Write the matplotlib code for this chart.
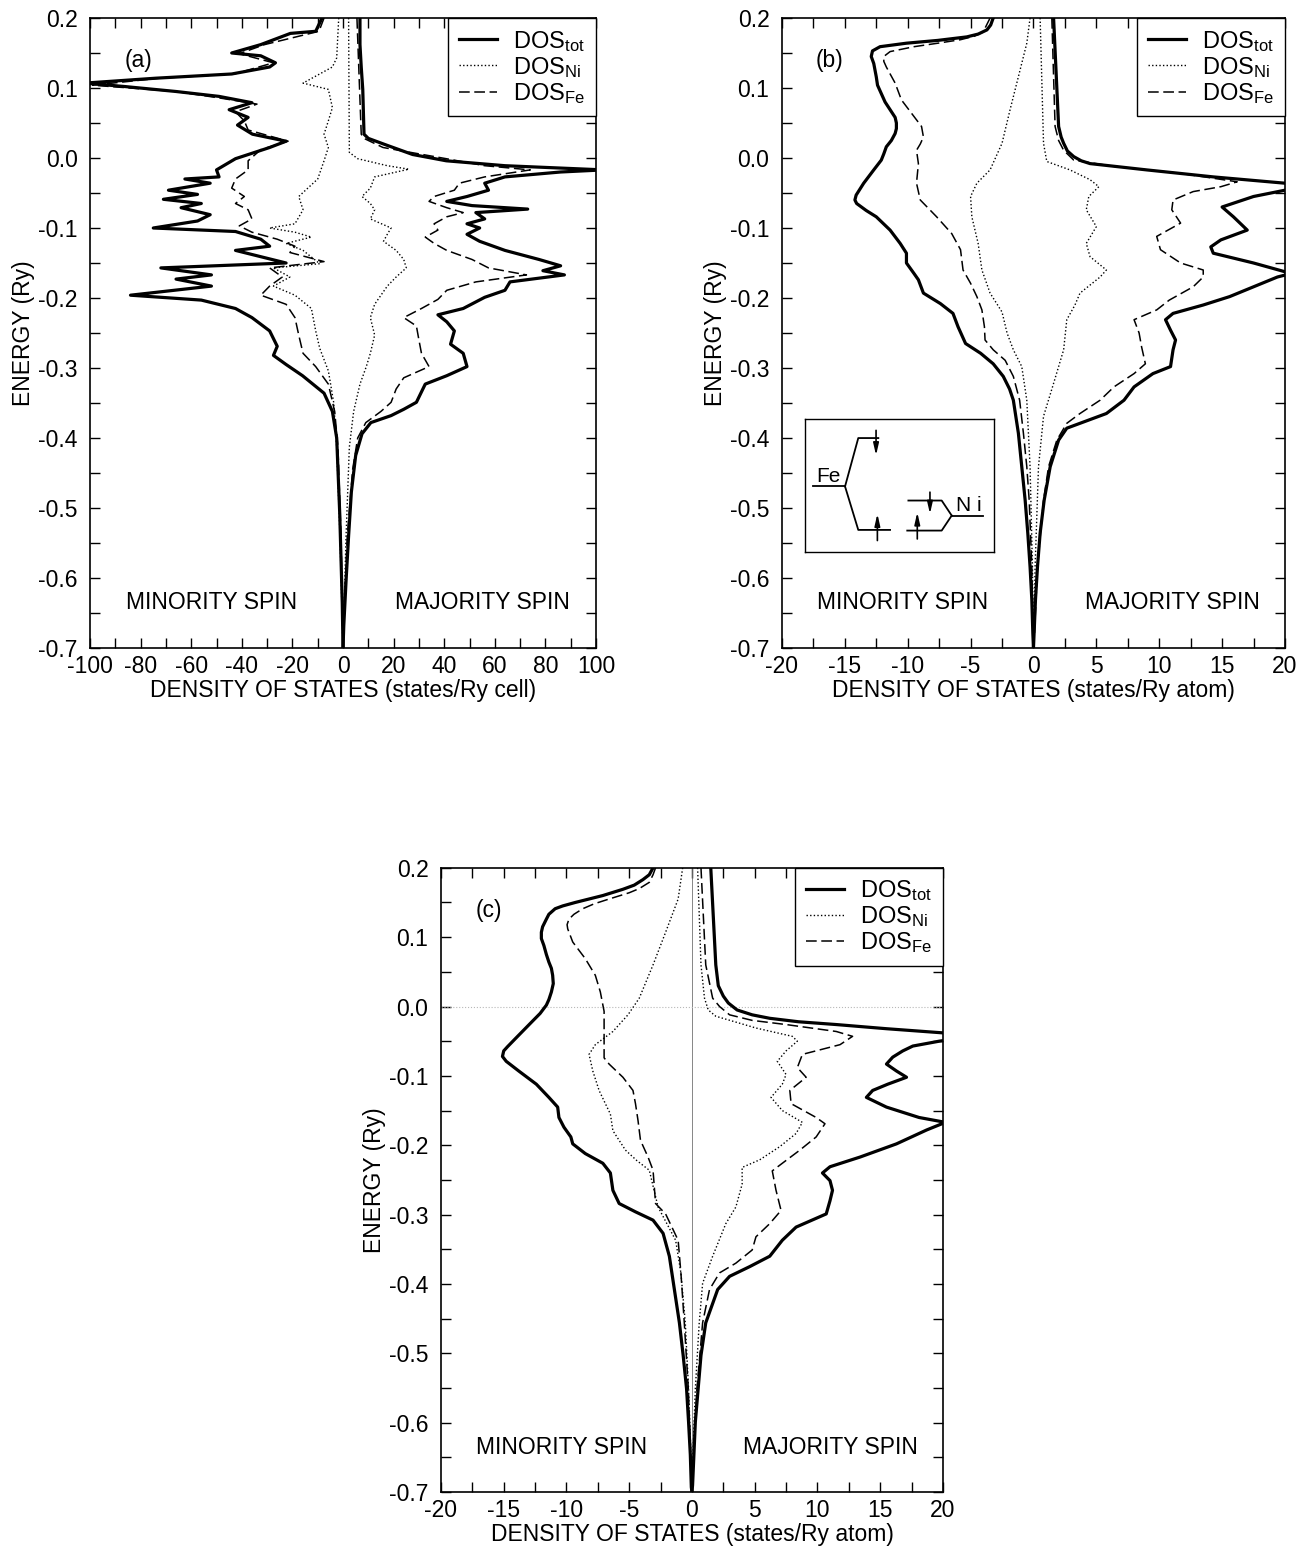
import numpy as np
import matplotlib
matplotlib.use('Agg')
import matplotlib.pyplot as plt
from matplotlib.ticker import MultipleLocator, FormatStrFormatter

plt.rcParams['font.family'] = ['Liberation Sans', 'DejaVu Sans']
plt.rcParams['mathtext.default'] = 'regular'
plt.rcParams['axes.unicode_minus'] = False

# ---- data: (energy in Ry, DOS); minority spin is drawn negative
# panel (a): states/Ry cell
a_tot_dn = [(0.200, -8.3), (0.181, -10.8), (0.178, -20.8), (0.162, -32.5), (0.150, -44), (0.146, -32.5),
            (0.136, -26.7), (0.130, -29), (0.120, -44), (0.114, -74), (0.107, -102), (0.102, -86),
            (0.095, -66), (0.088, -49), (0.079, -36), (0.069, -45), (0.058, -37.5), (0.047, -41.7),
            (0.034, -35.8), (0.024, -22.5), (0.015, -29), (-0.001, -42.5), (-0.017, -50), (-0.027, -49),
            (-0.030, -62.5), (-0.036, -52.5), (-0.046, -69), (-0.052, -57.5), (-0.059, -71), (-0.065, -56),
            (-0.071, -64), (-0.081, -52.5), (-0.090, -57.5), (-0.100, -75), (-0.105, -42.5), (-0.116, -32.5),
            (-0.126, -29), (-0.132, -42.5), (-0.141, -32.5), (-0.150, -22.5), (-0.157, -72), (-0.167, -52),
            (-0.173, -66), (-0.183, -52), (-0.196, -84), (-0.203, -56), (-0.215, -42.5), (-0.228, -36),
            (-0.247, -29), (-0.269, -26), (-0.282, -27.5), (-0.295, -22.5), (-0.311, -16), (-0.336, -7.5),
            (-0.362, -4.2), (-0.400, -2.5), (-0.445, -2.0), (-0.508, -1.3), (-0.572, -0.8), (-0.636, -0.3),
            (-0.700, 0)]
a_tot_up = [(0.200, 6.7), (0.162, 6.7), (0.130, 7.2), (0.098, 7.8), (0.034, 8.3), (0.028, 10), (0.018, 17.5),
            (0.005, 27.5), (-0.004, 40.8), (-0.011, 64), (-0.017, 103), (-0.020, 86), (-0.027, 64),
            (-0.036, 56), (-0.046, 57.5), (-0.055, 49), (-0.062, 41), (-0.068, 51), (-0.073, 73),
            (-0.078, 52.5), (-0.087, 56), (-0.094, 49), (-0.100, 54), (-0.109, 49), (-0.119, 54),
            (-0.132, 64), (-0.145, 77.5), (-0.154, 86), (-0.161, 79), (-0.167, 87.5), (-0.177, 66),
            (-0.189, 64), (-0.199, 56), (-0.215, 47.5), (-0.224, 37.5), (-0.234, 41), (-0.247, 44),
            (-0.266, 42.5), (-0.279, 47.5), (-0.298, 49), (-0.311, 41), (-0.323, 32.5), (-0.349, 29),
            (-0.359, 24), (-0.368, 19), (-0.378, 11), (-0.394, 7.5), (-0.425, 5), (-0.477, 3.3),
            (-0.540, 2.2), (-0.604, 1.2), (-0.668, 0.3), (-0.700, 0)]
a_ni_dn = [(0.200, -1.7), (0.143, -2.5), (0.130, -4.2), (0.107, -15.8), (0.098, -5.8), (0.072, -4.2),
           (0.053, -5.8), (0.034, -7.5), (0.015, -5.8), (-0.004, -7.5), (-0.030, -10), (-0.055, -17.5),
           (-0.074, -15.8), (-0.094, -19), (-0.100, -29), (-0.106, -19), (-0.113, -12.5), (-0.122, -22.5),
           (-0.132, -15.8), (-0.151, -9.2), (-0.157, -27.5), (-0.170, -21), (-0.183, -27.5), (-0.196, -19),
           (-0.215, -12.5), (-0.247, -10.8), (-0.272, -9.2), (-0.304, -5.8), (-0.349, -3.7), (-0.413, -2.5),
           (-0.540, -1.2), (-0.660, -0.3), (-0.700, 0)]
a_ni_up = [(0.200, 2.2), (0.008, 2.5), (-0.001, 5.8), (-0.011, 17.5), (-0.016, 26), (-0.027, 12.5),
           (-0.043, 10.8), (-0.055, 7.5), (-0.065, 10.8), (-0.074, 12.5), (-0.087, 10.8), (-0.100, 19),
           (-0.109, 17.5), (-0.119, 16), (-0.132, 21), (-0.145, 24), (-0.157, 25), (-0.170, 21),
           (-0.183, 17.5), (-0.209, 12.5), (-0.228, 10.8), (-0.253, 12.5), (-0.279, 10.8), (-0.298, 9.2),
           (-0.323, 6.7), (-0.362, 4.2), (-0.413, 2.5), (-0.540, 1.2), (-0.660, 0.3), (-0.700, 0)]
a_fe_dn = [(0.200, -7.5), (0.181, -9.5), (0.162, -31), (0.149, -41), (0.136, -27.5), (0.120, -43),
           (0.114, -72.5), (0.104, -99), (0.095, -66), (0.085, -47.5), (0.077, -34), (0.066, -42.5),
           (0.053, -39), (0.040, -37.5), (0.024, -21.7), (0.012, -32.5), (-0.004, -37.5), (-0.017, -37.5),
           (-0.030, -42.5), (-0.043, -44), (-0.055, -39), (-0.065, -42.5), (-0.074, -37.5), (-0.087, -36),
           (-0.097, -41), (-0.106, -36), (-0.116, -26), (-0.126, -19), (-0.135, -21), (-0.148, -7.5),
           (-0.157, -29), (-0.170, -24), (-0.183, -29), (-0.196, -32.5), (-0.209, -22.5), (-0.228, -19),
           (-0.253, -17.5), (-0.279, -15.8), (-0.298, -10.8), (-0.323, -5.8), (-0.362, -3.3), (-0.413, -2),
           (-0.540, -0.8), (-0.660, -0.2), (-0.700, 0)]
a_fe_up = [(0.200, 5.5), (0.034, 7.2), (0.028, 8.3), (0.015, 15.8), (-0.001, 40.8), (-0.011, 56),
           (-0.017, 74), (-0.027, 56), (-0.036, 46), (-0.046, 44), (-0.055, 36), (-0.062, 34), (-0.071, 41),
           (-0.078, 47.5), (-0.084, 41), (-0.094, 36), (-0.103, 37.5), (-0.113, 32.5), (-0.122, 36),
           (-0.132, 41), (-0.145, 51), (-0.157, 57.5), (-0.167, 72.5), (-0.177, 52.5), (-0.189, 41),
           (-0.202, 37.5), (-0.215, 31), (-0.228, 24), (-0.240, 29), (-0.260, 30), (-0.279, 31),
           (-0.298, 34), (-0.314, 24), (-0.330, 21), (-0.349, 19), (-0.362, 15), (-0.378, 9), (-0.400, 5.8),
           (-0.445, 3.8), (-0.540, 1.7), (-0.640, 0.5), (-0.700, 0)]

# panel (b): states/Ry atom
b_tot_dn = [(0.200, -3.2), (0.190, -3.4), (0.183, -3.7), (0.177, -4.4), (0.173, -5.3), (0.168, -7.6),
            (0.164, -10.1), (0.159, -12.2), (0.153, -12.8), (0.145, -12.9), (0.135, -12.7), (0.116, -12.5),
            (0.104, -12.4), (0.092, -12.1), (0.080, -11.8), (0.069, -11.4), (0.058, -11.0), (0.050, -10.9),
            (0.042, -10.9), (0.035, -11.0), (0.025, -11.3), (0.016, -11.7), (0.006, -11.9), (-0.003, -12.1),
            (-0.017, -12.7), (-0.036, -13.5), (-0.053, -14.1), (-0.060, -14.2), (-0.065, -14.06),
            (-0.075, -13.3), (-0.084, -12.5), (-0.103, -11.4), (-0.122, -10.6), (-0.136, -10.1),
            (-0.150, -10.1), (-0.165, -9.5), (-0.174, -9.15), (-0.193, -8.75), (-0.208, -7.4), (-0.222, -6.4),
            (-0.241, -6.0), (-0.265, -5.4), (-0.279, -4.2), (-0.294, -3.2), (-0.312, -2.4), (-0.330, -1.9),
            (-0.346, -1.6), (-0.393, -1.2), (-0.441, -0.93), (-0.489, -0.66), (-0.536, -0.45), (-0.584, -0.27),
            (-0.631, -0.13), (-0.679, -0.05), (-0.700, 0)]
b_tot_up = [(0.200, 1.6), (0.045, 2.0), (0.030, 2.2), (0.021, 2.4), (0.010, 2.7), (0.002, 3.2), (-0.004, 3.8),
            (-0.008, 4.5), (-0.017, 9.0), (-0.027, 14.3), (-0.036, 20), (-0.041, 22), (-0.046, 20),
            (-0.055, 17.5), (-0.070, 15.0), (-0.084, 15.9), (-0.103, 17.0), (-0.117, 14.9), (-0.127, 14.1),
            (-0.136, 14.3), (-0.150, 17.5), (-0.165, 20.5), (-0.170, 19.4), (-0.184, 17.5), (-0.198, 15.6),
            (-0.210, 13.5), (-0.222, 11.1), (-0.231, 10.5), (-0.246, 10.9), (-0.260, 11.3), (-0.274, 11.1),
            (-0.298, 10.9), (-0.308, 9.5), (-0.327, 8.0), (-0.346, 7.2), (-0.365, 5.8), (-0.377, 4.0),
            (-0.386, 2.65), (-0.403, 2.0), (-0.441, 1.33), (-0.489, 0.85), (-0.536, 0.53), (-0.584, 0.32),
            (-0.631, 0.16), (-0.679, 0.05), (-0.700, 0)]
b_ni_dn = [(0.200, -0.27), (0.164, -0.53), (0.116, -1.2), (0.069, -1.86), (0.021, -2.5), (-0.017, -3.45),
           (-0.036, -4.5), (-0.055, -5.0), (-0.084, -4.9), (-0.122, -4.4), (-0.160, -4.1), (-0.193, -3.45),
           (-0.220, -2.5), (-0.250, -2.1), (-0.274, -1.6), (-0.298, -0.93), (-0.346, -0.53), (-0.441, -0.27),
           (-0.584, -0.08), (-0.700, 0)]
b_ni_up = [(0.200, 0.53), (0.021, 0.8), (-0.005, 1.06), (-0.017, 2.9), (-0.031, 4.5), (-0.041, 5.2),
           (-0.055, 4.4), (-0.074, 4.2), (-0.098, 5.0), (-0.122, 4.2), (-0.141, 4.5), (-0.160, 5.8),
           (-0.170, 5.3), (-0.193, 3.7), (-0.210, 3.3), (-0.231, 2.65), (-0.274, 2.4), (-0.322, 1.6),
           (-0.369, 0.8), (-0.441, 0.4), (-0.584, 0.13), (-0.700, 0)]
b_fe_dn = [(0.200, -3.45), (0.180, -4.0), (0.174, -4.7), (0.169, -5.8), (0.164, -7.6), (0.159, -9.5),
           (0.152, -11.4), (0.145, -11.9), (0.138, -11.9), (0.130, -11.7), (0.107, -11.0), (0.083, -10.5),
           (0.064, -9.7), (0.045, -8.9), (0.030, -8.75), (0.020, -9.0), (0.011, -9.3), (-0.008, -9.15),
           (-0.036, -9.3), (-0.060, -9.0), (-0.084, -7.7), (-0.108, -6.5), (-0.131, -5.8), (-0.160, -5.6),
           (-0.179, -5.0), (-0.198, -4.5), (-0.217, -4.1), (-0.241, -3.9), (-0.260, -3.85), (-0.274, -3.2),
           (-0.289, -2.25), (-0.312, -1.6), (-0.346, -1.1), (-0.393, -0.8), (-0.441, -0.53), (-0.489, -0.34),
           (-0.584, -0.13), (-0.679, -0.03), (-0.700, 0)]
b_fe_up = [(0.200, 1.46), (0.045, 1.72), (0.025, 2.0), (0.011, 2.4), (-0.003, 3.2), (-0.012, 6.4),
           (-0.022, 11.7), (-0.034, 16.2), (-0.041, 14.9), (-0.048, 12.7), (-0.060, 11.1), (-0.074, 11.0),
           (-0.093, 11.7), (-0.112, 9.8), (-0.131, 10.1), (-0.150, 11.7), (-0.160, 13.5), (-0.170, 13.5),
           (-0.184, 12.7), (-0.203, 10.8), (-0.217, 9.8), (-0.231, 8.0), (-0.250, 8.4), (-0.270, 8.6),
           (-0.294, 8.9), (-0.308, 8.0), (-0.327, 6.4), (-0.346, 5.3), (-0.365, 3.7), (-0.379, 2.65),
           (-0.403, 1.86), (-0.441, 1.2), (-0.489, 0.8), (-0.584, 0.32), (-0.679, 0.08), (-0.700, 0)]

# panel (c): states/Ry atom
c_tot_dn = [(0.200, -3.1), (0.190, -3.4), (0.183, -3.9), (0.175, -4.6), (0.169, -5.5), (0.160, -7.1),
            (0.150, -9.3), (0.145, -10.3), (0.141, -10.9), (0.133, -11.4), (0.126, -11.6), (0.115, -11.9),
            (0.107, -12.0), (0.098, -12.0), (0.088, -11.8), (0.075, -11.6), (0.064, -11.4), (0.055, -11.2),
            (0.045, -11.1), (0.033, -11.05), (0.021, -11.2), (0.010, -11.4), (0.002, -11.6), (-0.010, -12.1),
            (-0.021, -12.7), (-0.045, -14.0), (-0.058, -14.7), (-0.064, -15.0), (-0.072, -15.1),
            (-0.079, -14.8), (-0.093, -13.8), (-0.112, -12.4), (-0.131, -11.4), (-0.145, -10.7),
            (-0.160, -10.6), (-0.174, -10.2), (-0.188, -9.65), (-0.198, -9.5), (-0.212, -8.5), (-0.226, -7.1),
            (-0.240, -6.5), (-0.265, -6.3), (-0.284, -5.8), (-0.296, -4.5), (-0.308, -3.1), (-0.327, -2.3),
            (-0.360, -1.8), (-0.408, -1.4), (-0.456, -1.0), (-0.503, -0.7), (-0.551, -0.43), (-0.599, -0.27),
            (-0.646, -0.13), (-0.693, -0.05), (-0.700, 0)]
c_tot_up = [(0.200, 1.5), (0.060, 1.9), (0.030, 2.1), (0.015, 2.5), (0.005, 2.9), (-0.005, 3.6),
            (-0.012, 4.8), (-0.017, 6.2), (-0.022, 8.5), (-0.026, 11.5), (-0.032, 15.5), (-0.038, 20),
            (-0.044, 22), (-0.050, 19.7), (-0.057, 17.6), (-0.064, 16.8), (-0.073, 16.0), (-0.083, 15.5),
            (-0.093, 16.3), (-0.102, 17.1), (-0.112, 15.6), (-0.121, 14.4), (-0.131, 13.9), (-0.145, 15.5),
            (-0.160, 18.1), (-0.167, 20.2), (-0.178, 18.7), (-0.198, 16.3), (-0.217, 13.4), (-0.231, 11.0),
            (-0.240, 10.4), (-0.251, 11.0), (-0.265, 11.2), (-0.280, 11.0), (-0.299, 10.7), (-0.318, 8.3),
            (-0.337, 7.2), (-0.360, 6.2), (-0.375, 4.6), (-0.389, 3.0), (-0.408, 2.05), (-0.456, 1.1),
            (-0.503, 0.72), (-0.599, 0.27), (-0.690, 0.05), (-0.700, 0)]
c_ni_dn = [(0.200, -0.74), (0.155, -1.1), (0.107, -2.1), (0.060, -3.1), (0.012, -4.2), (-0.012, -5.1),
           (-0.036, -6.3), (-0.055, -7.7), (-0.069, -8.2), (-0.093, -7.9), (-0.121, -7.4), (-0.140, -6.9),
           (-0.155, -6.5), (-0.179, -6.3), (-0.207, -5.3), (-0.222, -4.4), (-0.236, -3.4), (-0.289, -2.7),
           (-0.337, -1.3), (-0.384, -0.88), (-0.456, -0.53), (-0.551, -0.27), (-0.646, -0.08), (-0.700, 0)]
c_ni_up = [(0.200, 0.45), (0.060, 0.72), (0.012, 1.0), (-0.005, 1.3), (-0.014, 1.9), (-0.031, 5.1),
           (-0.043, 8.0), (-0.050, 8.4), (-0.064, 7.5), (-0.079, 6.8), (-0.098, 7.5), (-0.112, 7.2),
           (-0.131, 6.3), (-0.150, 7.2), (-0.167, 8.8), (-0.183, 8.3), (-0.202, 7.0), (-0.221, 5.4),
           (-0.232, 4.0), (-0.256, 4.0), (-0.289, 3.5), (-0.313, 2.7), (-0.360, 1.65), (-0.399, 0.85),
           (-0.456, 0.58), (-0.551, 0.27), (-0.646, 0.08), (-0.700, 0)]
c_fe_dn = [(0.200, -2.9), (0.190, -3.1), (0.179, -3.4), (0.170, -4.2), (0.164, -5.0), (0.155, -6.6),
           (0.148, -7.8), (0.141, -8.7), (0.133, -9.4), (0.126, -9.8), (0.118, -9.95), (0.112, -9.9),
           (0.093, -9.5), (0.069, -8.5), (0.045, -7.7), (0.021, -7.3), (-0.007, -7.0), (-0.045, -7.0),
           (-0.074, -7.0), (-0.083, -6.6), (-0.102, -5.5), (-0.121, -4.7), (-0.140, -4.5), (-0.164, -4.3),
           (-0.193, -4.1), (-0.217, -3.5), (-0.236, -3.1), (-0.284, -2.9), (-0.299, -2.1), (-0.337, -1.1),
           (-0.384, -0.88), (-0.456, -0.61), (-0.551, -0.29), (-0.646, -0.1), (-0.700, 0)]
c_fe_up = [(0.200, 0.72), (0.060, 1.1), (0.012, 1.65), (0.000, 2.2), (-0.012, 3.0), (-0.020, 4.8),
           (-0.026, 7.5), (-0.036, 11.5), (-0.043, 12.8), (-0.055, 11.8), (-0.069, 8.8), (-0.088, 8.4),
           (-0.102, 9.1), (-0.121, 7.8), (-0.140, 7.9), (-0.160, 9.9), (-0.169, 10.6), (-0.188, 9.9),
           (-0.207, 8.6), (-0.226, 7.2), (-0.237, 6.4), (-0.265, 6.7), (-0.294, 7.1), (-0.313, 6.2),
           (-0.332, 5.1), (-0.351, 4.8), (-0.370, 3.5), (-0.384, 2.2), (-0.408, 1.4), (-0.456, 0.85),
           (-0.551, 0.4), (-0.646, 0.13), (-0.700, 0)]

# schematic in panel (b), inset-box coordinates
fe_lines = [[(0.044, 0.495), (0.212, 0.495)],
            [(0.212, 0.495), (0.282, 0.859), (0.388, 0.859)],
            [(0.212, 0.495), (0.282, 0.168), (0.45, 0.168)]]
ni_lines = [[(0.776, 0.276), (0.94, 0.276)],
            [(0.776, 0.276), (0.723, 0.389), (0.547, 0.389)],
            [(0.776, 0.276), (0.723, 0.163), (0.541, 0.163)]]
spin_arrows = [((0.376, 0.917), (0.376, 0.729)), ((0.383, 0.088), (0.383, 0.289)),
               ((0.661, 0.452), (0.661, 0.289)), ((0.594, 0.100), (0.594, 0.300))]

FS = 16.5


def draw(ax, tot_dn, tot_up, ni_dn, ni_up, fe_dn, fe_up):
    for dn, up, st, lab in [(tot_dn, tot_up, dict(lw=2.3, ls='-'), r'DOS$_{tot}$'),
                            (ni_dn, ni_up, dict(lw=1.0, ls=(0, (1, 1.6))), r'DOS$_{Ni}$'),
                            (fe_dn, fe_up, dict(lw=1.1, ls=(0, (7, 3))), r'DOS$_{Fe}$')]:
        e, d = np.array(dn).T
        ax.plot(d, e, color='k', **st)
        e, d = np.array(up).T
        ax.plot(d, e, color='k', label=lab, **st)


def setup(ax, xmax, step, unit, tag):
    ax.set_xlim(-xmax, xmax)
    ax.set_ylim(-0.7, 0.2)
    ax.xaxis.set_major_locator(MultipleLocator(step))
    ax.xaxis.set_minor_locator(MultipleLocator(step / 2))
    ax.xaxis.set_major_formatter(FormatStrFormatter('%d'))
    ax.yaxis.set_major_locator(MultipleLocator(0.1))
    ax.yaxis.set_minor_locator(MultipleLocator(0.05))
    ax.yaxis.set_major_formatter(FormatStrFormatter('%.1f'))
    ax.tick_params(which='both', direction='in', top=True, right=True, length=7.5, width=1.0,
                   labelsize=FS)
    ax.tick_params(axis='x', pad=5)
    ax.tick_params(axis='y', pad=9)
    for s in ax.spines.values():
        s.set_linewidth(1.2)
    ax.set_xlabel('DENSITY OF STATES (states/Ry %s)' % unit, fontsize=FS, labelpad=1)
    ax.set_ylabel('ENERGY (Ry)', fontsize=FS, labelpad=2)
    ax.text(0.095, 0.932, tag, transform=ax.transAxes, ha='center', va='center', fontsize=FS)
    ax.text(0.24, 0.072, 'MINORITY SPIN', transform=ax.transAxes, ha='center', va='center', fontsize=FS)
    ax.text(0.776, 0.072, 'MAJORITY SPIN', transform=ax.transAxes, ha='center', va='center', fontsize=FS)
    leg = ax.legend(loc='upper right', borderaxespad=0, fancybox=False, edgecolor='k', framealpha=1,
                    fontsize=17, handlelength=1.6, labelspacing=0.05, borderpad=0.45, handletextpad=0.7)
    leg.get_frame().set_linewidth(1.0)


fig = plt.figure(figsize=(13.12, 15.51), dpi=100)
ax_a = fig.add_axes([0.0686, 0.5822, 0.3857, 0.4062])
ax_b = fig.add_axes([0.5960, 0.5822, 0.3834, 0.4062])
ax_c = fig.add_axes([0.3361, 0.0380, 0.3826, 0.4025])

ax_c.axvline(0, color='0.45', lw=0.6)
ax_c.axhline(0, color='0.72', lw=0.8, ls=':')

draw(ax_a, a_tot_dn, a_tot_up, a_ni_dn, a_ni_up, a_fe_dn, a_fe_up)
draw(ax_b, b_tot_dn, b_tot_up, b_ni_dn, b_ni_up, b_fe_dn, b_fe_up)
draw(ax_c, c_tot_dn, c_tot_up, c_ni_dn, c_ni_up, c_fe_dn, c_fe_up)

setup(ax_a, 100, 20, 'cell', '(a)')
setup(ax_b, 20, 5, 'atom', '(b)')
setup(ax_c, 20, 5, 'atom', '(c)')

# level scheme inset
axi = ax_b.inset_axes([0.0457, 0.152, 0.376, 0.211])
axi.set_xlim(0, 1)
axi.set_ylim(0, 1)
axi.set_xticks([])
axi.set_yticks([])
for s in axi.spines.values():
    s.set_linewidth(1.0)
for seg in fe_lines + ni_lines:
    xs, ys = zip(*seg)
    axi.plot(xs, ys, color='k', lw=1.3)
for tail, head in spin_arrows:
    axi.annotate('', xy=head, xytext=tail,
                 arrowprops=dict(arrowstyle='-|>,head_length=0.7,head_width=0.16', lw=1.2, color='k',
                                 shrinkA=0, shrinkB=0))
axi.text(0.123, 0.57, 'Fe', ha='center', va='center', fontsize=15)
axi.text(0.868, 0.352, 'N i', ha='center', va='center', fontsize=15)

fig.savefig('out.png', dpi=100)
